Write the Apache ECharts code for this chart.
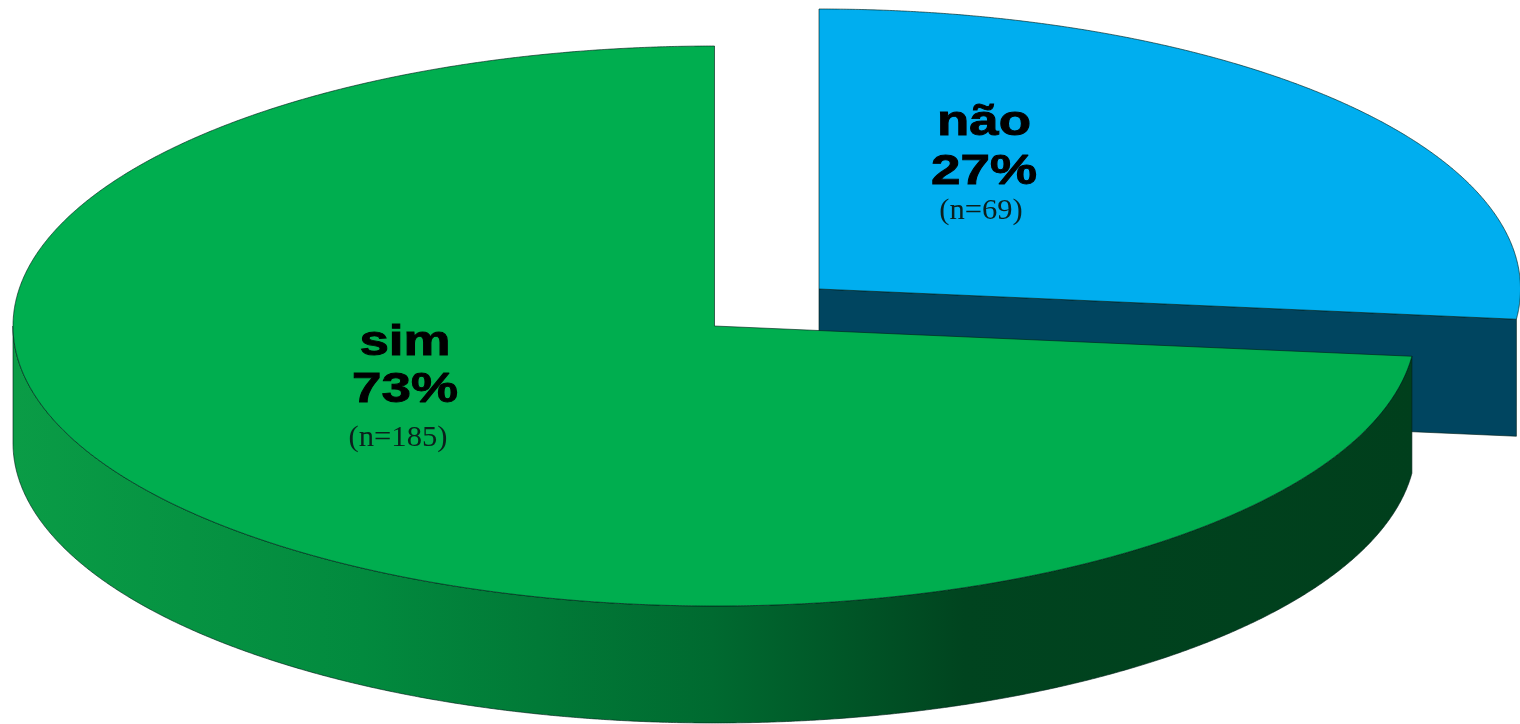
<!DOCTYPE html>
<html>
<head>
<meta charset="utf-8">
<style>html,body{margin:0;padding:0;background:#fff}#c{width:1520px;height:724px}</style>
<script src="https://cdn.jsdelivr.net/npm/echarts@6/dist/echarts.min.js"></script>
</head>
<body>
<div id="c"></div>
<script>
// Data
const categories = ['não', 'sim'];
const shares = [27, 73];
const counts = [69, 185];

// Styles and layout, per slice
const topColors = ['#00AEEF', '#00AE4F'];
const centers = [[819, 289], [714.5, 326]];
const nameAt = [[984, 123], [405, 343]];
const pctAt = [[984, 172], [405, 390]];
const countAt = [[981, 211], [398, 438]];
const RX = 701.5, RY = 280, DEPTH = 117;
const PERSPECTIVE = 0.86;

const total = shares.reduce((a, b) => a + b, 0);
const rad = d => d * Math.PI / 180;
// pie angle (clockwise from 12 o'clock) -> ellipse parameter
function param(deg) {
  const t = rad(deg);
  let p = Math.atan2(Math.sin(t), Math.cos(t) * PERSPECTIVE);
  if (p < 0) p += Math.PI * 2;
  if (deg >= 360) p = Math.PI * 2;
  return p;
}
function pt(c, p, dy) {
  return [c[0] + RX * Math.sin(p), c[1] - RY * Math.cos(p) + (dy || 0)];
}
function arc(c, a, b, dy) {
  const out = [];
  const n = Math.max(2, Math.ceil((b - a) / rad(0.25)));
  for (let i = 0; i <= n; i++) out.push(pt(c, a + (b - a) * i / n, dy));
  return out;
}
const EDGE = 'rgba(0,30,25,0.62)';

function renderSlice(params, api) {
  const i = params.dataIndex;
  const c = centers[i];
  let before = 0;
  for (let k = 0; k < i; k++) before += shares[k];
  const a = param(before / total * 360);
  const b = param((before + api.value(0)) / total * 360);
  const kids = [];

  if (i === 0) {
    // front radial wall of the pulled-out slice
    const e = pt(c, b);
    kids.push({
      type: 'polygon',
      shape: { points: [c, e, [e[0], e[1] + DEPTH], [c[0], c[1] + DEPTH]] },
      style: { fill: '#004560', stroke: EDGE, lineWidth: 1 }
    });
  } else {
    // outer curved wall
    const from = Math.max(a, Math.PI / 2), to = Math.min(b, Math.PI * 1.5);
    const top = arc(c, from, to, 0);
    const bottom = arc(c, from, to, DEPTH).reverse();
    kids.push({
      type: 'polygon',
      shape: { points: top.concat(bottom) },
      style: {
        fill: new echarts.graphic.LinearGradient(0, 0, 1, 0, [
          { offset: 0, color: '#0A9C46' },
          { offset: 0.25, color: '#028A3E' },
          { offset: 0.5, color: '#006A30' },
          { offset: 0.68, color: '#00441F' },
          { offset: 1, color: '#003F1C' }
        ]),
        stroke: EDGE, lineWidth: 1
      }
    });
  }
  // top face
  kids.push({
    type: 'polygon',
    shape: { points: [c].concat(arc(c, a, b, 0)) },
    style: { fill: topColors[i], stroke: EDGE, lineWidth: 1 }
  });
  return { type: 'group', children: kids };
}

function renderLabel(params, api) {
  const i = params.dataIndex;
  const bold = 'bold 42px "Liberation Sans"';
  const serif = '30px "Liberation Serif"';
  const t = (txt, at, font, sx, fill, heavy) => ({
    type: 'text', x: at[0], y: at[1], scaleX: sx,
    style: {
      text: txt, font: font, fill: fill, align: 'center', verticalAlign: 'middle',
      stroke: heavy ? fill : null, lineWidth: heavy ? 0.9 : 0
    }
  });
  return {
    type: 'group',
    children: [
      t(categories[i], nameAt[i], bold, 1.26, '#000', true),
      t(api.value(0) + '%', pctAt[i], bold, 1.26, '#000', true),
      t('(n=' + api.value(1) + ')', countAt[i], serif, 1.02, '#0b1f1c', false)
    ]
  };
}

const rows = shares.map((v, i) => [v, counts[i]]);
const chart = echarts.init(document.getElementById('c'), null, { renderer: 'canvas' });
chart.setOption({
  animation: false,
  backgroundColor: '#fff',
  series: [
    { type: 'custom', coordinateSystem: 'none', renderItem: renderSlice, data: rows, z: 1, silent: true },
    { type: 'custom', coordinateSystem: 'none', renderItem: renderLabel, data: rows, z: 2, silent: true }
  ]
});
</script>
</body>
</html>
